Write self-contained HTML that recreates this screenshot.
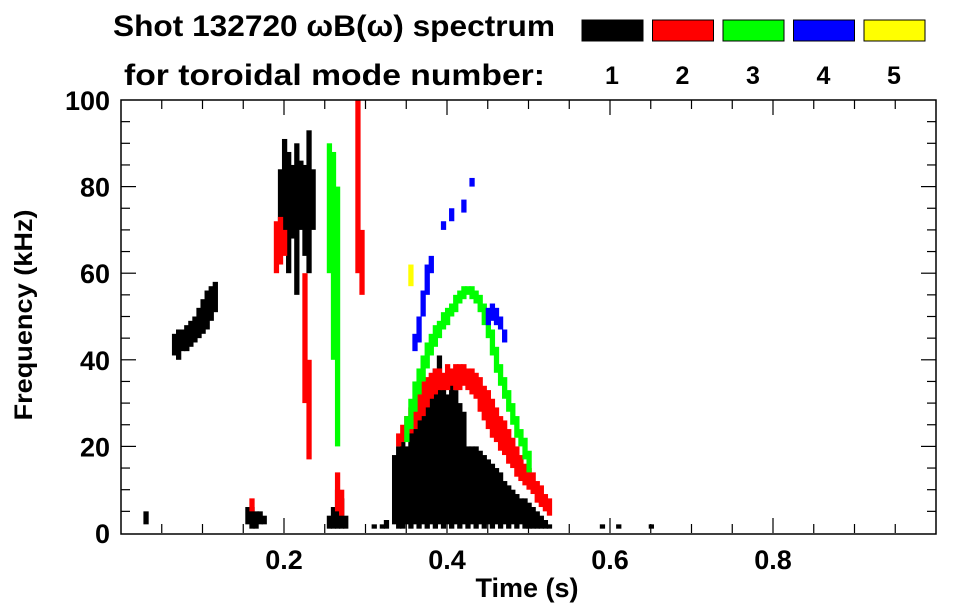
<!DOCTYPE html>
<html><head><meta charset="utf-8"><style>
body{margin:0;background:#fff;}
svg{display:block;font-family:"Liberation Sans",sans-serif;font-weight:bold;}
</style></head><body>
<svg width="963" height="615" id="chart">
<g id="title">
<text x="113" y="36" font-size="30" textLength="442" lengthAdjust="spacingAndGlyphs">Shot 132720 ωB(ω) spectrum</text>
<text x="124" y="85" font-size="30" textLength="421" lengthAdjust="spacingAndGlyphs">for toroidal mode number:</text>
</g>
<g id="legend"></g>
<g id="marks"></g>
<g id="axes"></g>
<text x="527" y="597" font-size="27" text-anchor="middle">Time (s)</text>
<text transform="translate(32,315) rotate(-90)" font-size="25" text-anchor="middle" textLength="211" lengthAdjust="spacingAndGlyphs">Frequency (kHz)</text>
</svg>
<script>
// ---- data ----
const modeNumbers = [1,2,3,4,5];
const modeColors = ["#000000","#ff0000","#00ff00","#0000ff","#ffff00"];
const xTickLabels = ["0.2","0.4","0.6","0.8"];
const xTickValues = [0.2,0.4,0.6,0.8];
const yTickValues = [0,20,40,60,80,100];
// strips: [time, fLow, fHigh]
const mode1 = [
[0.03,2,5],
[0.065,41,46],[0.07,40,47],[0.075,42,47],[0.08,42,48],[0.085,43,49],[0.09,44,50],[0.095,45,52],[0.1,46,54],[0.105,47,56],[0.11,49,57],[0.115,51,58],
[0.155,2,6],[0.16,1,6],[0.165,1,5],[0.17,2,5],[0.175,2,4],
[0.195,72,84],[0.2,66,91],[0.205,60,88],[0.21,68,85],[0.215,55,90],[0.22,70,86],[0.225,64,85],[0.23,60,93],[0.235,70,84],
[0.255,1,4],[0.26,1,6],[0.265,1,10],[0.27,1,8],[0.275,1,4],
[0.31,1,2],[0.32,1,2],[0.325,1,3],
[0.335,2,18],[0.34,1,20],[0.345,1,22],[0.35,2,20],[0.355,1,24],[0.36,2,25],[0.365,1,27],[0.37,2,30],[0.375,1,34],[0.38,2,36],[0.385,1,38],[0.39,2,41],[0.395,1,35],[0.4,2,32],[0.405,1,36],[0.41,2,33],[0.415,1,30],[0.42,2,28],[0.425,1,20],[0.43,2,20],[0.435,1,20],[0.44,2,19],[0.445,1,18],[0.45,2,17],[0.455,1,16],[0.46,2,15],[0.465,1,14],[0.47,2,12],[0.475,1,11],[0.48,2,10],[0.485,1,9],[0.49,2,8],[0.495,1,8],[0.5,1,7],[0.505,1,6],[0.51,1,5],[0.515,1,4],[0.52,1,3],[0.525,1,2],
[0.59,1,2],[0.61,1,2],[0.65,1,2]
];
const mode2 = [
[0.16,5,8],
[0.19,60,72],[0.195,62,73],[0.2,64,70],
[0.225,30,60],[0.23,17,40],
[0.265,5,14],[0.27,4,10],
[0.29,60,100],[0.295,55,70],
[0.34,20,23],[0.345,21,25],[0.35,22,27],[0.355,23,29],[0.36,24,31],[0.365,26,33],[0.37,27,35],[0.375,29,36],[0.38,31,37],[0.385,32,38],[0.39,33,38],[0.395,33,37],[0.4,33,39],[0.405,34,38],[0.41,33,39],[0.415,33,39],[0.42,34,39],[0.425,33,38],[0.43,32,38],[0.435,31,37],[0.44,28,36],[0.445,26,34],[0.45,24,33],[0.455,22,31],[0.46,21,29],[0.465,19,27],[0.47,18,26],[0.475,16,24],[0.48,15,22],[0.485,13,20],[0.49,12,18],[0.495,11,16],[0.5,10,15],[0.505,9,14],[0.51,7,12],[0.515,6,11],[0.52,5,9],[0.525,4,8]
];
const mode3 = [
[0.255,60,90],[0.26,40,88],[0.265,20,80],
[0.35,21,27],[0.355,24,31],[0.36,28,35],[0.365,32,38],[0.37,35,41],[0.375,38,44],[0.38,41,46],[0.385,43,48],[0.39,45,49],[0.395,47,51],[0.4,48,52],[0.405,50,53],[0.41,51,55],[0.415,53,56],[0.42,54,57],[0.425,55,57],[0.43,54,57],[0.435,53,56],[0.44,51,55],[0.445,48,53],[0.45,45,50],[0.455,41,47],[0.46,37,43],[0.465,34,39],[0.47,31,36],[0.475,28,33],[0.48,25,30],[0.485,22,27],[0.49,20,24],[0.495,17,22],[0.5,14,19]
];
const mode4 = [
[0.36,42,46],[0.365,44,50],[0.37,50,56],[0.375,55,62],[0.38,60,64],
[0.395,70,72],[0.405,72,75],[0.42,74,77],[0.43,80,82],
[0.45,48,52],[0.455,49,53],[0.46,48,52],[0.465,47,50],[0.47,44,47]
];
const mode5 = [
[0.355,57,62]
];
const modeStrips = [mode1,mode2,mode3,mode4,mode5];

// ---- scales ----
const X0=121, X1=936, Y0=533, Y1=100;
const tMin=0, tMax=1.0, fMin=0, fMax=100;
const sx = t => X0 + (t-tMin)/(tMax-tMin)*(X1-X0);
const sy = f => Y0 - (f-fMin)/(fMax-fMin)*(Y0-Y1);
const stripDt = 0.005;
const NS="http://www.w3.org/2000/svg";
function mk(tag, attrs, parent){const e=document.createElementNS(NS,tag);for(const k in attrs)e.setAttribute(k,attrs[k]);parent.appendChild(e);return e;}

// ---- marks ----
const marks=document.getElementById('marks');
modeStrips.forEach((strips,mi)=>{
  const g=mk('g',{fill:modeColors[mi]},marks);
  
  
  strips.forEach(s=>{
    const r=mk('rect',{x:sx(s[0]-stripDt/2),y:sy(s[2]),width:sx(stripDt)-sx(0)+1.2,height:Math.max(1,sy(s[1])-sy(s[2]))},g);
    
    
  });
});

// ---- axes ----
const ax=document.getElementById('axes');
const frame=mk('rect',{x:X0,y:Y1,width:X1-X0,height:Y0-Y1+1,fill:'none',stroke:'#000','stroke-width':1.5},ax);


for(let i=1;i<20;i++){
  const t=i*0.05, x=sx(t), major=(i%4===0);
  const L=major?15:9;
  mk('line',{x1:x,x2:x,y1:Y0,y2:Y0-L,stroke:'#000','stroke-width':1.2},ax);
  mk('line',{x1:x,x2:x,y1:Y1,y2:Y1+L,stroke:'#000','stroke-width':1.2},ax);
}
for(let i=1;i<20;i++){
  const f=i*5, y=sy(f), major=(i%4===0);
  const L=major?15:9;
  mk('line',{x1:X0,x2:X0+L,y1:y,y2:y,stroke:'#000','stroke-width':1.2},ax);
  mk('line',{x1:X1,x2:X1-L,y1:y,y2:y,stroke:'#000','stroke-width':1.2},ax);
}
xTickLabels.forEach((lab,i)=>{
  const t=mk('text',{x:sx(xTickValues[i]),y:569,'font-size':27,'text-anchor':'middle'},ax);
  t.textContent=lab;
  
  
});
yTickValues.forEach(v=>{
  const t=mk('text',{x:110,y:sy(v)+10,'font-size':27,'text-anchor':'end'},ax);
  t.textContent=String(v);
  
  
});

// ---- legend ----
const lg=document.getElementById('legend');
modeNumbers.forEach((m,i)=>{
  const x=582+i*70.5;
  const r=mk('rect',{x:x,y:20,width:61,height:21,fill:modeColors[i],stroke:'#000','stroke-width':1},lg);
  
  
  const t=mk('text',{x:x+30,y:84,'font-size':25,'text-anchor':'middle'},lg);
  t.textContent=String(m);
  
  
});
</script>
</body></html>
